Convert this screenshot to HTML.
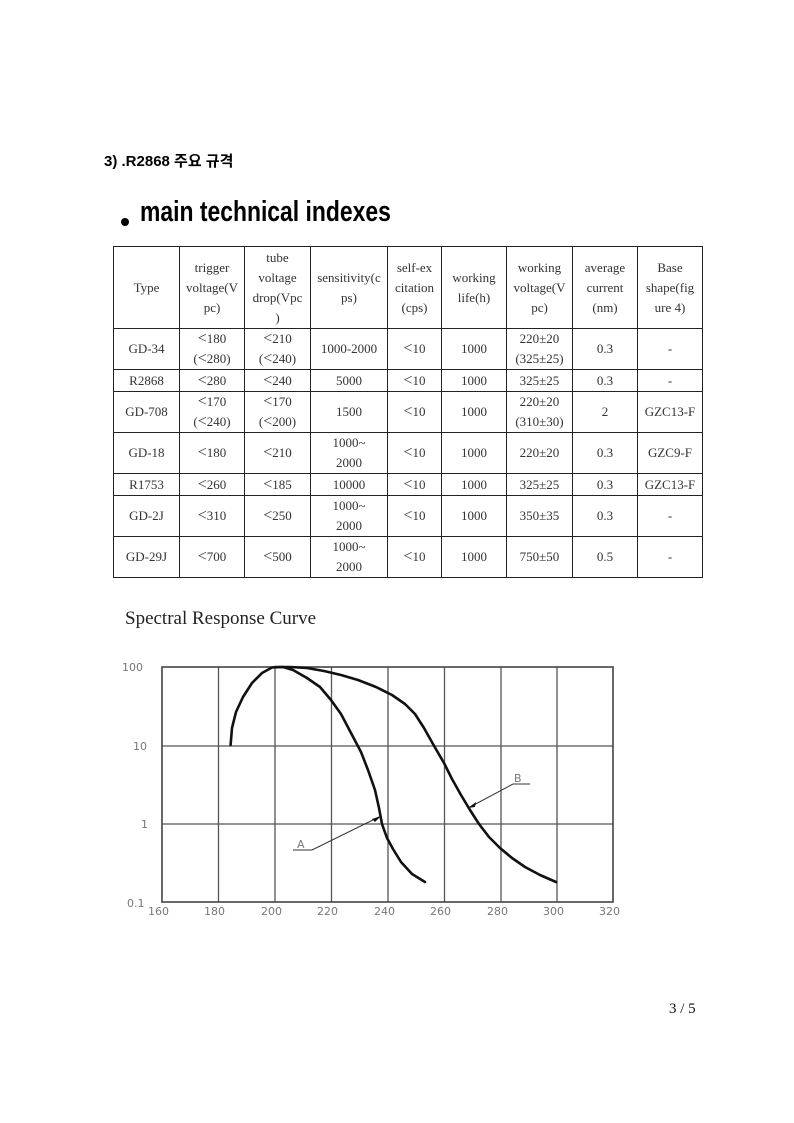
<!DOCTYPE html>
<html><head><meta charset="utf-8"><style>
html,body{margin:0;padding:0;background:#fff;}
body{width:794px;height:1123px;position:relative;overflow:hidden;}
.abs{position:absolute;white-space:nowrap;}
table{position:absolute;left:113px;top:246px;border-collapse:collapse;table-layout:fixed;font-family:"Liberation Serif",serif;font-size:13px;color:#333;}
td{border:1px solid #222;text-align:center;vertical-align:middle;padding:0;line-height:20px;}
.lt{font-size:16px;}
</style></head><body>
<div class="abs" style="left:104px;top:150px;font:bold 15px 'Liberation Sans','Noto Sans CJK KR',sans-serif;color:#000;">3) .R2868 주요 규격</div>
<div class="abs" style="left:121px;top:218px;width:8px;height:8px;border-radius:50%;background:#000;"></div>
<div class="abs" style="left:140px;top:196px;font:bold 29px 'Liberation Sans',sans-serif;color:#000;transform:scaleX(0.79);transform-origin:0 0;">main technical indexes</div>
<table>
<colgroup><col style="width:66px"><col style="width:65px"><col style="width:66px"><col style="width:77px"><col style="width:54px"><col style="width:65px"><col style="width:66px"><col style="width:65px"><col style="width:65px"></colgroup>
<tr style="height:82px"><td>Type</td><td>trigger<br>voltage(V<br>pc)</td><td>tube<br>voltage<br>drop(Vpc<br>)</td><td>sensitivity(c<br>ps)</td><td>self-ex<br>citation<br>(cps)</td><td>working<br>life(h)</td><td>working<br>voltage(V<br>pc)</td><td>average<br>current<br>(nm)</td><td>Base<br>shape(fig<br>ure 4)</td></tr>
<tr style="height:41px"><td>GD-34</td><td><span class="lt">&lt;</span>180<br>(<span class="lt">&lt;</span>280)</td><td><span class="lt">&lt;</span>210<br>(<span class="lt">&lt;</span>240)</td><td>1000-2000</td><td><span class="lt">&lt;</span>10</td><td>1000</td><td>220±20<br>(325±25)</td><td>0.3</td><td>-</td></tr>
<tr style="height:22px"><td>R2868</td><td><span class="lt">&lt;</span>280</td><td><span class="lt">&lt;</span>240</td><td>5000</td><td><span class="lt">&lt;</span>10</td><td>1000</td><td>325±25</td><td>0.3</td><td>-</td></tr>
<tr style="height:41px"><td>GD-708</td><td><span class="lt">&lt;</span>170<br>(<span class="lt">&lt;</span>240)</td><td><span class="lt">&lt;</span>170<br>(<span class="lt">&lt;</span>200)</td><td>1500</td><td><span class="lt">&lt;</span>10</td><td>1000</td><td>220±20<br>(310±30)</td><td>2</td><td>GZC13-F</td></tr>
<tr style="height:41px"><td>GD-18</td><td><span class="lt">&lt;</span>180</td><td><span class="lt">&lt;</span>210</td><td>1000~<br>2000</td><td><span class="lt">&lt;</span>10</td><td>1000</td><td>220±20</td><td>0.3</td><td>GZC9-F</td></tr>
<tr style="height:22px"><td>R1753</td><td><span class="lt">&lt;</span>260</td><td><span class="lt">&lt;</span>185</td><td>10000</td><td><span class="lt">&lt;</span>10</td><td>1000</td><td>325±25</td><td>0.3</td><td>GZC13-F</td></tr>
<tr style="height:41px"><td>GD-2J</td><td><span class="lt">&lt;</span>310</td><td><span class="lt">&lt;</span>250</td><td>1000~<br>2000</td><td><span class="lt">&lt;</span>10</td><td>1000</td><td>350±35</td><td>0.3</td><td>-</td></tr>
<tr style="height:40px"><td>GD-29J</td><td><span class="lt">&lt;</span>700</td><td><span class="lt">&lt;</span>500</td><td>1000~<br>2000</td><td><span class="lt">&lt;</span>10</td><td>1000</td><td>750±50</td><td>0.5</td><td>-</td></tr>
</table>
<div class="abs" style="left:125px;top:608px;font:19px 'Liberation Serif',serif;color:#222;">Spectral Response Curve</div>
<svg class="abs" style="left:0;top:0" width="794" height="1123">
<g stroke="#555" stroke-width="1.3" fill="none">
<line x1="218.5" y1="667" x2="218.5" y2="902"/><line x1="275" y1="667" x2="275" y2="902"/><line x1="331.5" y1="667" x2="331.5" y2="902"/><line x1="388" y1="667" x2="388" y2="902"/><line x1="444.5" y1="667" x2="444.5" y2="902"/><line x1="501" y1="667" x2="501" y2="902"/><line x1="557" y1="667" x2="557" y2="902"/>
<line x1="162" y1="746" x2="613" y2="746"/><line x1="162" y1="824" x2="613" y2="824"/>
</g>
<rect x="162" y="667" width="451" height="235" fill="none" stroke="#444" stroke-width="1.6"/>
<g fill="none" stroke="#111" stroke-width="2.6" stroke-linecap="round" stroke-linejoin="round">
<polyline points="230.6,745 232,728 236,712 243,697 252,683 262,673 272,667.5 283,667 293,670 307,678 320,687 331,700 341,714 351,733 361,752 368,770 375,790 379,808 382,824 387,838 393,849 401,862 412,874 425,882"/>
<polyline points="275,667 290,667 307,668 324,671 341,675 358,680 376,687 392,695 405,704 415,714 424,728 433,744 444,763 452,779 461,795 470,810 479,824 489,837 500,848 512,858 525,867 540,875 556,882"/>
</g>
<g stroke="#333" stroke-width="1" fill="none">
<polyline points="530,784 513,784 470,807"/>
<polyline points="293,850 312,850 379,817"/>
</g>
<path d="M468,808 l8,-6 l-1,5 z M381,816 l-9,3 l3,3 z" fill="#111"/>
<g font-family="'DejaVu Sans',sans-serif" font-size="11" fill="#777">
<text x="122" y="671">100</text><text x="133" y="750">10</text><text x="141" y="828">1</text><text x="127" y="907">0.1</text>
<text x="148" y="915">160</text><text x="204" y="915">180</text><text x="261" y="915">200</text><text x="317" y="915">220</text><text x="374" y="915">240</text><text x="430" y="915">260</text><text x="487" y="915">280</text><text x="543" y="915">300</text><text x="599" y="915">320</text>
<text x="514" y="782">B</text><text x="297" y="848">A</text>
</g>
</svg>
<div class="abs" style="left:669px;top:1001px;font:15px 'Liberation Serif',serif;color:#111;">3 / 5</div>
</body></html>
